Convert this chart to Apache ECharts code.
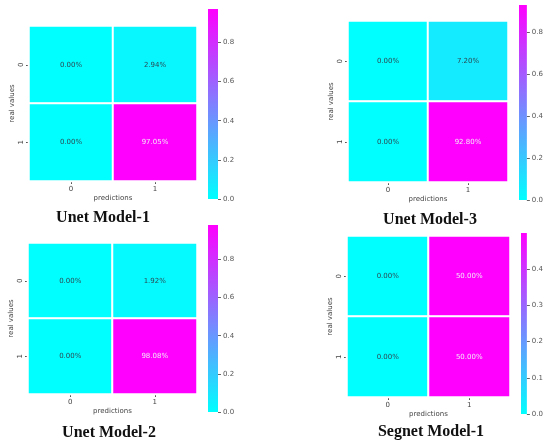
<!DOCTYPE html>
<html>
<head>
<meta charset="utf-8">
<script src="https://cdn.jsdelivr.net/npm/echarts@6/dist/echarts.min.js"></script>
<style>
  html, body { margin: 0; padding: 0; background: #fff; }
  #chart { width: 546px; height: 443px; }
</style>
</head>
<body>
<div id="chart"></div>
<script>
// Confusion matrices: rows = real values, columns = predictions (fractions)
const classLabels = ['0', '1'];
const unet1Values = [[0.0000, 0.0294], [0.0000, 0.9705]];
const unet3Values = [[0.0000, 0.0720], [0.0000, 0.9280]];
const unet2Values = [[0.0000, 0.0192], [0.0000, 0.9808]];
const segnet1Values = [[0.0000, 0.5000], [0.0000, 0.5000]];

const modelTitles = ['Unet Model-1', 'Unet Model-3', 'Unet Model-2', 'Segnet Model-1'];
const unetColorbarTicks = [0, 0.2, 0.4, 0.6, 0.8];
const segnetColorbarTicks = [0, 0.1, 0.2, 0.3, 0.4];

// Panel layout: heatmap box, colour bar box, title anchor
const panels = [
  { values: unet1Values, ticks: unetColorbarTicks,
    grid: { left: 29, top: 26, width: 168, height: 155 },
    bar: { left: 208, top: 9, width: 10, height: 190 },
    title: { x: 103, y: 218 } },
  { values: unet3Values, ticks: unetColorbarTicks,
    grid: { left: 348, top: 21, width: 160, height: 161 },
    bar: { left: 519, top: 5, width: 10, height: 195 },
    title: { x: 430, y: 220 } },
  { values: unet2Values, ticks: unetColorbarTicks,
    grid: { left: 28, top: 243, width: 169, height: 151 },
    bar: { left: 208, top: 225, width: 10, height: 187 },
    title: { x: 109, y: 433 } },
  { values: segnet1Values, ticks: segnetColorbarTicks,
    grid: { left: 347, top: 236, width: 163, height: 161 },
    bar: { left: 521, top: 233, width: 10, height: 181 },
    title: { x: 431, y: 432 } }
];

const coolLow = '#00ffff';
const coolHigh = '#ff00ff';
const smallFont = 'DejaVu Sans';

const grids = [], xAxes = [], yAxes = [], series = [], visualMaps = [], graphics = [];

panels.forEach((p, i) => {
  const maxVal = Math.max(...p.values.flat());

  // heatmap grid
  grids.push(Object.assign({}, p.grid));
  const hg = grids.length - 1;
  xAxes.push({
    type: 'category', gridIndex: hg, data: classLabels,
    name: 'predictions', nameLocation: 'middle', nameGap: 14,
    nameTextStyle: { fontSize: 7, color: '#444', fontFamily: smallFont },
    axisLine: { show: false },
    axisTick: { show: true, alignWithLabel: true, length: 3, lineStyle: { color: '#555' } },
    axisLabel: { fontSize: 7, color: '#444', margin: 5, fontFamily: smallFont },
    splitLine: { show: false }
  });
  yAxes.push({
    type: 'category', gridIndex: hg, data: classLabels, inverse: true,
    name: 'real values', nameLocation: 'middle', nameGap: 13,
    nameTextStyle: { fontSize: 7, color: '#444', fontFamily: smallFont },
    axisLine: { show: false },
    axisTick: { show: true, alignWithLabel: true, length: 3, lineStyle: { color: '#555' } },
    axisLabel: { fontSize: 7, color: '#444', margin: 4, rotate: 90, fontFamily: smallFont },
    splitLine: { show: false }
  });

  const data = [];
  p.values.forEach((row, r) => {
    row.forEach((v, c) => {
      data.push({
        value: [c, r, v],
        label: { color: v / maxVal > 0.5 ? '#f4e8f6' : '#2b4a55' }
      });
    });
  });
  series.push({
    type: 'heatmap', xAxisIndex: xAxes.length - 1, yAxisIndex: yAxes.length - 1,
    data: data,
    itemStyle: { borderColor: '#ffffff', borderWidth: 2 },
    label: {
      show: true, fontSize: 7, fontFamily: smallFont,
      formatter: (d) => (d.value[2] * 100).toFixed(2) + '%'
    },
    emphasis: { disabled: true }
  });
  visualMaps.push({
    type: 'continuous', seriesIndex: series.length - 1, show: false,
    min: 0, max: maxVal, inRange: { color: [coolLow, coolHigh] }
  });

  // colour bar: gradient column spanning the value range, with its scale on the right
  grids.push(Object.assign({}, p.bar));
  const cg = grids.length - 1;
  xAxes.push({ type: 'category', gridIndex: cg, show: false, data: [''] });
  yAxes.push({
    type: 'value', gridIndex: cg, position: 'right', min: 0, max: maxVal,
    axisLine: { show: false },
    splitLine: { show: false },
    axisTick: { show: true, length: 3, customValues: p.ticks, lineStyle: { color: '#666' } },
    axisLabel: {
      customValues: p.ticks, fontSize: 7, color: '#555', margin: 5, fontFamily: smallFont,
      formatter: (v) => v.toFixed(1)
    }
  });
  series.push({
    type: 'custom', xAxisIndex: xAxes.length - 1, yAxisIndex: yAxes.length - 1,
    data: [[0, 0, maxVal]],
    silent: true,
    renderItem: (params, api) => {
      const cs = params.coordSys;
      const top = api.coord([0, api.value(2)])[1];
      const bottom = api.coord([0, api.value(1)])[1];
      return {
        type: 'rect',
        shape: { x: cs.x, y: top, width: cs.width, height: bottom - top },
        style: {
          fill: new echarts.graphic.LinearGradient(0, 0, 0, 1, [
            { offset: 0, color: coolHigh },
            { offset: 1, color: coolLow }
          ])
        }
      };
    }
  });

  graphics.push({
    type: 'text', x: p.title.x, y: p.title.y,
    style: {
      text: modelTitles[i], fill: '#111',
      font: 'bold 16px "Liberation Serif", "Times New Roman", serif',
      textAlign: 'center', textVerticalAlign: 'middle'
    }
  });
});

const chart = echarts.init(document.getElementById('chart'), null, { renderer: 'canvas' });
chart.setOption({
  backgroundColor: '#ffffff',
  animation: false,
  grid: grids,
  xAxis: xAxes,
  yAxis: yAxes,
  visualMap: visualMaps,
  series: series,
  graphic: graphics
});
</script>
</body>
</html>
